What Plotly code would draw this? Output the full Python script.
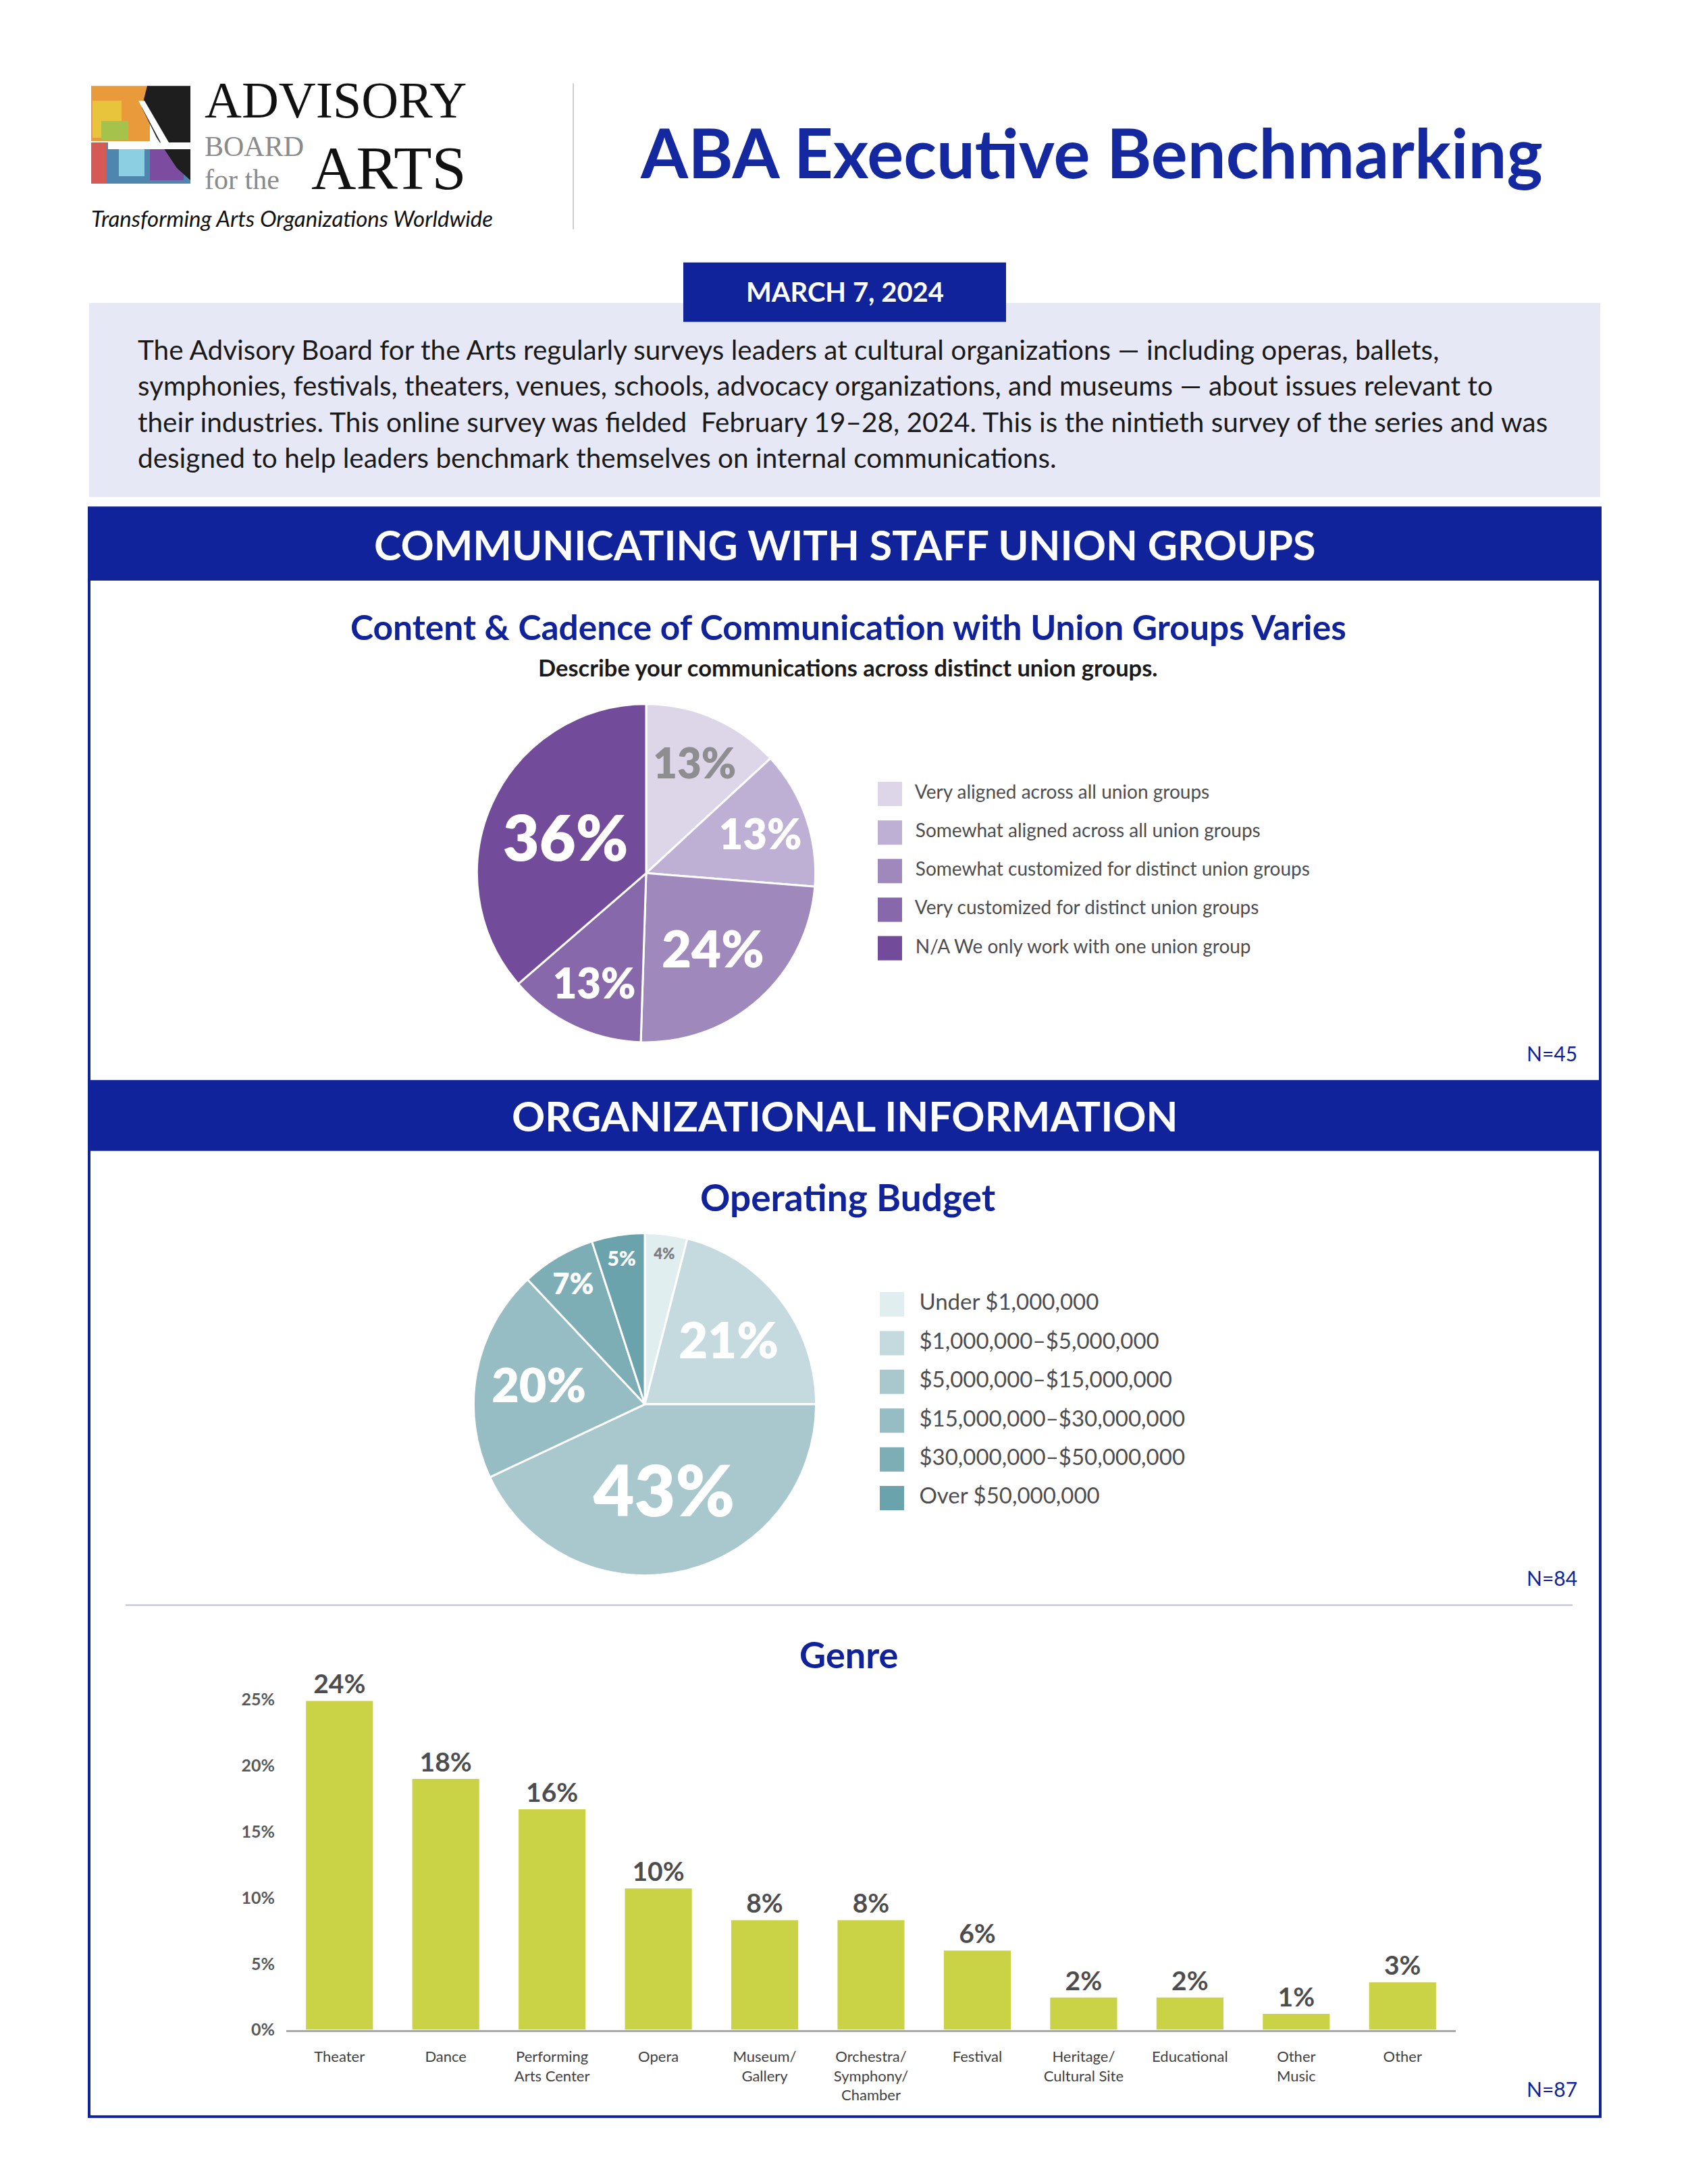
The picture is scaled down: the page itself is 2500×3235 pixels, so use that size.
import plotly.graph_objects as go

W, H = 2500, 3235
OFF = 8                     # page body margin
FW, FH = W - 2 * OFF, H - 2 * OFF
NAVY = "#10239B"
FONT = "Lato"
SERIF = "Liberation Serif"

# ---------------- data ----------------
union_labels = [
    "Very aligned across all union groups",
    "Somewhat aligned across all union groups",
    "Somewhat customized for distinct union groups",
    "Very customized for distinct union groups",
    "N/A We only work with one union group",
]
union_pct = [13, 13, 24, 13, 36]
union_colors = ["#DDD6E9", "#BEAFD4", "#9E88BC", "#8769AB", "#734B9B"]

budget_labels = [
    "Under $1,000,000",
    "$1,000,000–$5,000,000",
    "$5,000,000–$15,000,000",
    "$15,000,000–$30,000,000",
    "$30,000,000–$50,000,000",
    "Over $50,000,000",
]
budget_pct = [4, 21, 43, 20, 7, 5]
budget_colors = ["#E1EEF0", "#C4DADF", "#A8C8CD", "#96BDC3", "#7EAEB5", "#6AA3AC"]

genre_cats = [
    "Theater", "Dance", "Performing<br>Arts Center", "Opera", "Museum/<br>Gallery",
    "Orchestra/<br>Symphony/<br>Chamber", "Festival", "Heritage/<br>Cultural Site",
    "Educational", "Other<br>Music", "Other",
]
genre_bar = [24.9, 19.0, 16.7, 10.7, 8.3, 8.3, 6.0, 2.45, 2.45, 1.2, 3.6]
genre_label = [24, 18, 16, 10, 8, 8, 6, 2, 2, 1, 3]
genre_ticks = [0, 5, 10, 15, 20, 25]

intro_lines = [
    "The Advisory Board for the Arts regularly surveys leaders at cultural organizations — including operas, ballets,",
    "symphonies, festivals, theaters, venues, schools, advocacy organizations, and museums — about issues relevant to",
    "their industries. This online survey was fielded  February 19–28, 2024. This is the nintieth survey of the series and was",
    "designed to help leaders benchmark themselves on internal communications.",
]


def px(x):
    return (x - OFF) / FW


def py(y):
    y = y + (y - 226) * 0.00275
    return 1 - (y - OFF) / FH


NB = "\u00a0"
fig = go.Figure()

# ---------------- pies ----------------
fig.add_trace(go.Pie(
    values=union_pct, labels=union_labels, sort=False, direction="clockwise", rotation=0,
    marker=dict(colors=union_colors, line=dict(color="white", width=3)),
    texttemplate="%{value}%", textposition="inside", insidetextorientation="horizontal",
    textfont=dict(family=FONT, size=[62, 64, 76, 66, 93],
                  color=["#8E8E90", "white", "white", "white", "white"], weight=800),
    domain=dict(x=[px(706), px(1208)], y=[py(1547), py(1045)]),
    showlegend=False, hoverinfo="skip",
))

fig.add_trace(go.Pie(
    values=budget_pct, labels=budget_labels, sort=False, direction="clockwise", rotation=0,
    marker=dict(colors=budget_colors, line=dict(color="white", width=3)),
    texttemplate="%{value}%", textposition="inside", insidetextorientation="horizontal",
    textfont=dict(family=FONT, size=[22, 74, 105, 70, 43, 30],
                  color=["#7E7E80", "white", "white", "white", "white", "white"], weight=800),
    domain=dict(x=[px(701), px(1209)], y=[py(2338), py(1830)]),
    showlegend=False, hoverinfo="skip",
))

# ---------------- bar chart ----------------
fig.add_trace(go.Bar(
    x=genre_cats, y=genre_bar, marker=dict(color="#C9D345", line=dict(width=0)),
    text=[f"{v}%" for v in genre_label], textposition="outside", constraintext="none",
    textfont=dict(family=FONT, size=39, color="#4D4D4F", weight="bold"),
    cliponaxis=False, width=0.63, showlegend=False, hoverinfo="skip",
    xaxis="x", yaxis="y",
))

# ---------------- legends (marker + text) ----------------
fig.add_trace(go.Scatter(
    x=[0] * len(union_labels), y=list(range(len(union_labels))), mode="markers+text",
    marker=dict(symbol="square", size=36, color=union_colors, line=dict(width=0)),
    text=[NB * 2 + s for s in union_labels], textposition="middle right",
    textfont=dict(family=FONT, size=28, color="#4D4D4F"),
    cliponaxis=False, showlegend=False, hoverinfo="skip", xaxis="x2", yaxis="y2",
))
fig.add_trace(go.Scatter(
    x=[0] * len(budget_labels), y=list(range(len(budget_labels))), mode="markers+text",
    marker=dict(symbol="square", size=36, color=budget_colors, line=dict(width=0)),
    text=[NB * 2 + s for s in budget_labels], textposition="middle right",
    textfont=dict(family=FONT, size=33, color="#4D4D4F"),
    cliponaxis=False, showlegend=False, hoverinfo="skip", xaxis="x3", yaxis="y3",
))

# ---------------- shapes ----------------
shapes = []


def rect(x0, y0, x1, y1, fill=None, line=None, lw=0, layer="below"):
    d = dict(type="rect", xref="paper", yref="paper", x0=px(x0), x1=px(x1), y0=py(y1), y1=py(y0),
             layer=layer, line=dict(width=lw, color=line or "rgba(0,0,0,0)"))
    if fill:
        d["fillcolor"] = fill
    shapes.append(d)


def line(x0, y0, x1, y1, color, width):
    shapes.append(dict(type="line", xref="paper", yref="paper", x0=px(x0), x1=px(x1),
                       y0=py(y0), y1=py(y1), line=dict(color=color, width=width), layer="below"))


def poly(points, fill):
    path = "M " + " L ".join(f"{px(x)},{py(y)}" for x, y in points) + " Z"
    shapes.append(dict(type="path", xref="paper", yref="paper", path=path, fillcolor=fill,
                       line=dict(width=0), layer="below"))


# logo icon (approximation)
rect(135, 128, 222, 210, fill="#E99A3A")
rect(137, 150, 180, 205, fill="#E8C43C")
rect(150, 180, 190, 208, fill="#A4C24C")
rect(135, 212, 282, 273, fill="#4E86B0")
rect(135, 212, 158, 273, fill="#D55A55")
rect(176, 222, 214, 262, fill="#8CCFE3")
rect(222, 216, 272, 268, fill="#7B4C9F")
poly([(218, 128), (282, 128), (282, 268), (262, 250), (232, 205), (210, 160)], "#1E1E1E")
poly([(160, 212), (282, 212), (282, 222), (160, 222)], "white")
poly([(205, 150), (214, 150), (250, 212), (238, 212)], "white")

line(849, 124, 849, 341, "#CFCFCF", 2)
rect(132, 450, 2370, 738, fill="#E7E8F6")
rect(1012, 390, 1490, 478, fill=NAVY)
rect(132, 754, 2370, 3141, line=NAVY, lw=4)
rect(132, 754, 2370, 862, fill=NAVY)
rect(132, 1603, 2370, 1708, fill=NAVY)
line(186, 2382, 2329, 2382, "#B9BED6", 2)

# ---------------- annotations ----------------
ann = []


def text(x, y, s, size, color="#000", weight="normal", xanchor="center", family=FONT,
         style="normal", yanchor="middle"):
    ann.append(dict(x=px(x), y=py(y), xref="paper", yref="paper", text=s, showarrow=False,
                    xanchor=xanchor, yanchor=yanchor, align="left", borderpad=0,
                    font=dict(family=family, size=size, color=color, weight=weight, style=style)))


def serif_word(x, baseline, s, size, color):
    # centre of the text box sits ~0.3375 em above the baseline for Liberation Serif
    text(x, baseline - 0.3375 * size, s, size, color, family=SERIF, xanchor="left")


serif_word(302, 174, "ADVISORY", 76, "#111111")
serif_word(302, 232, "BOARD", 42, "#8A8A8A")
serif_word(302, 281, "for the", 42, "#8A8A8A")
serif_word(460, 281, "ARTS", 92, "#111111")
text(134, 324, "Transforming Arts Organizations Worldwide", 33, "#111", xanchor="left", style="italic")

text(1616, 226, "ABA Executive Benchmarking", 101, "#1428A0", weight="bold")
text(1251, 433, "MARCH 7, 2024", 40, "white", weight="bold")

for i, s in enumerate(intro_lines):
    text(203, 519 + i * 53.5, s, 40.5, "#1A1A1A", xanchor="left")

text(1251, 808, "COMMUNICATING WITH STAFF UNION GROUPS", 61, "white", weight="bold")
text(1256, 930, "Content &amp; Cadence of Communication with Union Groups Varies", 51.5, NAVY, weight="bold")
text(1256, 991, "Describe your communications across distinct union groups.", 34.5, "#1A1A1A", weight="bold")
text(2337, 1563, "N=45", 30, NAVY, xanchor="right")

text(1251, 1656, "ORGANIZATIONAL INFORMATION", 61, "white", weight="bold")
text(1256, 1776, "Operating Budget", 55, NAVY, weight="bold")
text(2337, 2341, "N=84", 30, NAVY, xanchor="right")

text(1257, 2455, "Genre", 54, NAVY, weight="bold")
text(2337, 3100, "N=87", 30, NAVY, xanchor="right")

# ---------------- layout ----------------
fig.update_layout(
    width=FW, height=FH, margin=dict(l=0, r=0, t=0, b=0),
    paper_bgcolor="white", plot_bgcolor="rgba(0,0,0,0)",
    shapes=shapes, annotations=ann, showlegend=False,
    bargap=0.37,
    xaxis=dict(domain=[px(424), px(2156)], anchor="y", showline=True, linecolor="#A9A9A9",
               linewidth=3, ticks="", showgrid=False, zeroline=False, tickangle=0,
               tickfont=dict(family=FONT, size=22, color="#3F3F3F"), ticklabelstandoff=18,
               fixedrange=True),
    yaxis=dict(domain=[py(3012), py(2483)], anchor="x", range=[0, 27], tickvals=genre_ticks,
               ticktext=[f"{t}%" for t in genre_ticks], showgrid=False, zeroline=False,
               showline=False, ticks="", ticklabelstandoff=16,
               tickfont=dict(family=FONT, size=25, color="#58595B", weight="bold"), fixedrange=True),
    xaxis2=dict(domain=[px(1318), px(2200)], anchor="y2", range=[0, 1], visible=False),
    yaxis2=dict(domain=[py(1436), py(1150)], anchor="x2", range=[4.5, -0.5], visible=False),
    xaxis3=dict(domain=[px(1321), px(2200)], anchor="y3", range=[0, 1], visible=False),
    yaxis3=dict(domain=[py(2252), py(1907)], anchor="x3", range=[5.5, -0.5], visible=False),
)

fig.write_html("out.html")
